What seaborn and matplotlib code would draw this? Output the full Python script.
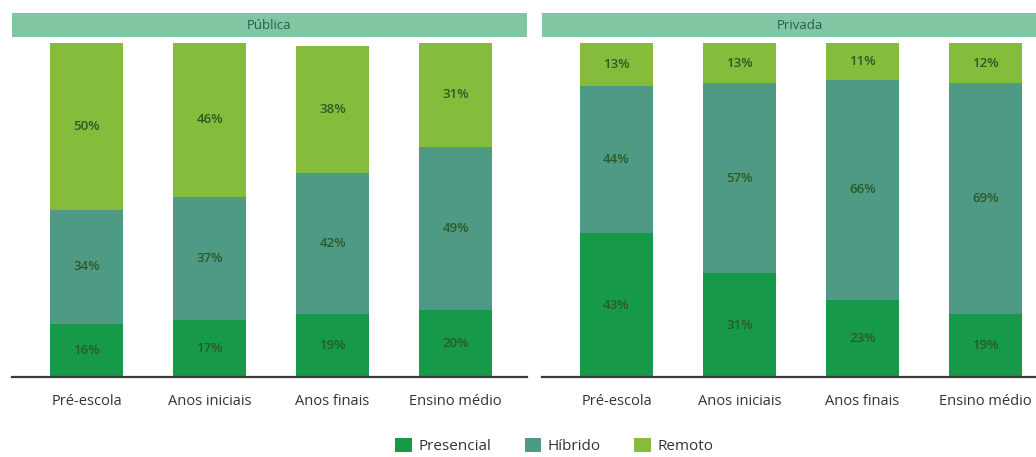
import matplotlib
matplotlib.use("Agg")
import matplotlib.pyplot as plt
from matplotlib.patches import Rectangle, Patch
import seaborn as sns
import numpy as np

sns.set_theme(style="white")
plt.rcParams["font.family"] = ["Open Sans", "DejaVu Sans"]

categories = ["Pré-escola", "Anos iniciais", "Anos finais", "Ensino médio"]
series_names = ["Presencial", "Híbrido", "Remoto"]
colors = ["#17994a", "#4f9a84", "#86bc3b"]

publica_presencial = [16, 17, 19, 20]
publica_hibrido = [34, 37, 42, 49]
publica_remoto = [50, 46, 38, 31]

privada_presencial = [43, 31, 23, 19]
privada_hibrido = [44, 57, 66, 69]
privada_remoto = [13, 13, 11, 12]

panels = [
    ("Pública", [publica_presencial, publica_hibrido, publica_remoto]),
    ("Privada", [privada_presencial, privada_hibrido, privada_remoto]),
]

W, H = 1036, 457
fig = plt.figure(figsize=(W / 100, H / 100), dpi=100)
fig.patch.set_facecolor("white")

base_y = 377
top_y = 43
axes_left_px = [12, 542]
axes_w_px = 515

label_color = "#2c5a26"
header_color = "#80c6a2"
header_text_color = "#2e5a4c"

for (title, stacks), left_px in zip(panels, axes_left_px):
    ax = fig.add_axes([left_px / W, (H - base_y) / H, axes_w_px / W, (base_y - top_y) / H])
    bottom = np.zeros(len(categories))
    for vals, color in zip(stacks, colors):
        sns.barplot(x=categories, y=vals, bottom=bottom, color=color, saturation=1,
                    width=0.59, ax=ax, linewidth=0)
        bottom = bottom + np.array(vals)
    for cont in ax.containers:
        ax.bar_label(cont, labels=[f"{v:.0f}%" for v in cont.datavalues],
                     label_type="center", fontsize=9.5, fontweight="semibold",
                     color=label_color)
    ax.set_xlim(-0.606, 3.58)
    ax.set_ylim(0, 100)
    ax.set_yticks([])
    ax.set_ylabel("")
    for s in ["top", "right", "left"]:
        ax.spines[s].set_visible(False)
    ax.spines["bottom"].set_color("#3a3a3a")
    ax.spines["bottom"].set_linewidth(1.6)
    ax.tick_params(axis="x", length=0, pad=12, labelsize=10.5, labelcolor="#333333")
    ax.set_facecolor("white")
    # header band above the panel
    y0 = (base_y - 37) / (base_y - top_y)
    y1 = (base_y - 13) / (base_y - top_y)
    ax.add_patch(Rectangle((0, y0), 1, y1 - y0, transform=ax.transAxes,
                           facecolor=header_color, edgecolor="none", clip_on=False))
    ax.text(0.5, (y0 + y1) / 2, title, transform=ax.transAxes, ha="center",
            va="center", fontsize=9.5, color=header_text_color)

handles = [Patch(facecolor=c, edgecolor="none", label=n) for n, c in zip(series_names, colors)]
fig.legend(handles=handles, loc="center", bbox_to_anchor=(0.535, 0.024), ncol=3,
           frameon=False, fontsize=11, handlelength=1.1, handleheight=1.1,
           columnspacing=2.2, handletextpad=0.4, labelcolor="#333333",
           borderpad=0.1)

fig.savefig("out.png", dpi=100, facecolor="white")
